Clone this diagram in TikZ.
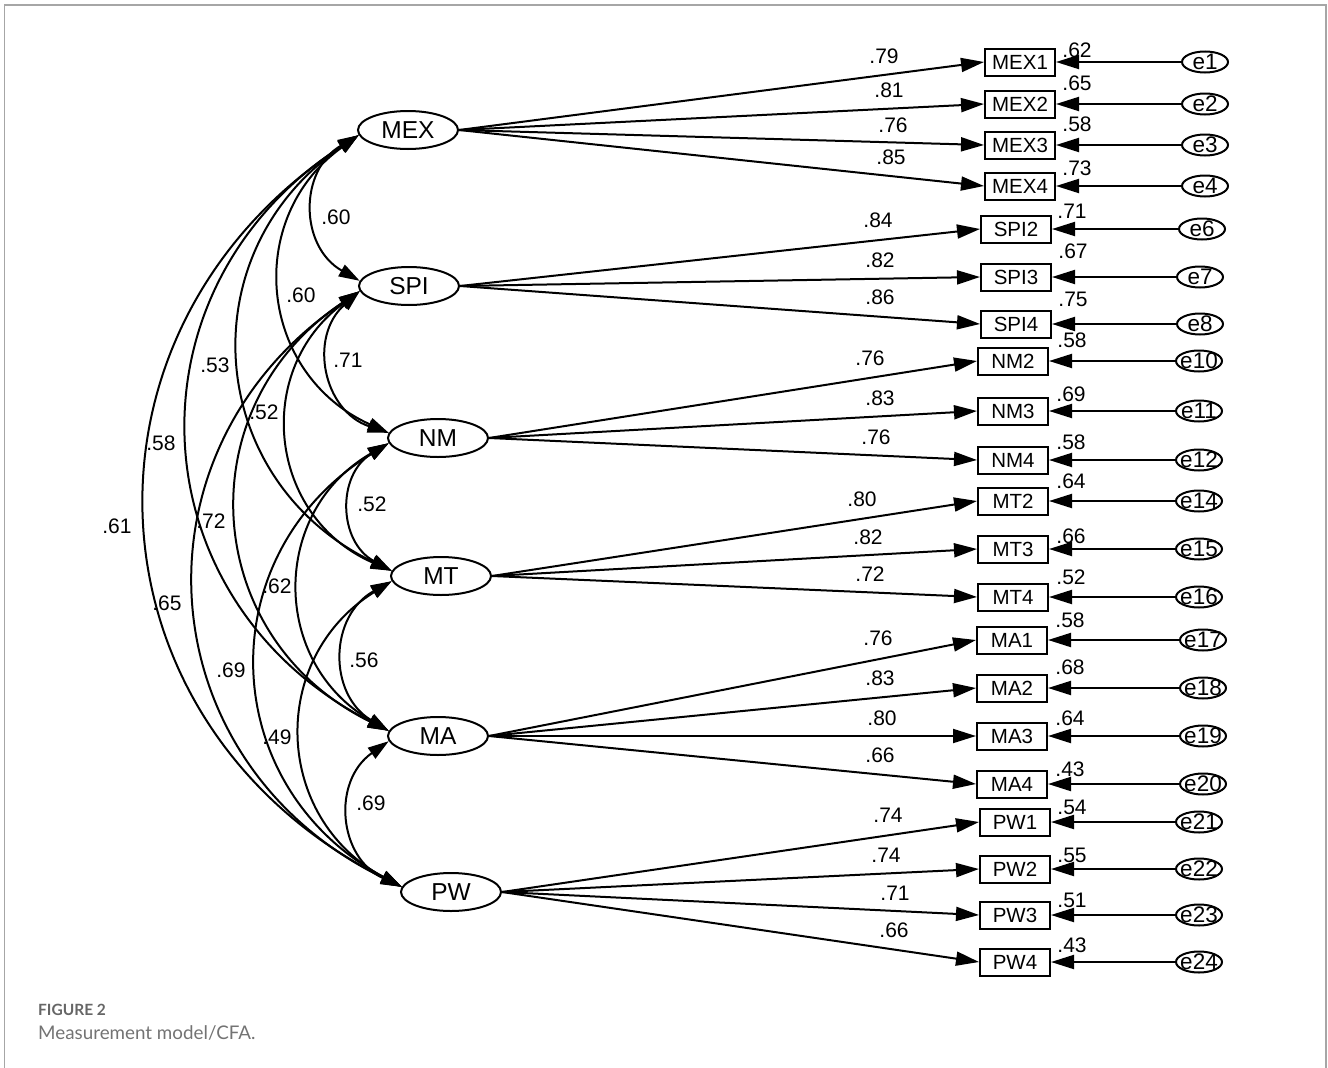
\documentclass[tikz,border=0pt]{standalone}
\usepackage{fontspec}
\setmainfont{Liberation Sans}
\newfontfamily\capfont{Lato}
\usetikzlibrary{arrows.meta,shapes.geometric}
\begin{document}
\begin{tikzpicture}[x=1pt,y=1pt,
  lat/.style={draw, ellipse, line width=2pt, minimum width=100pt, minimum height=38pt, inner sep=0pt, font=\fontsize{24.5}{24.5}\selectfont},
  obs/.style={draw, rectangle, line width=2pt, minimum width=70pt, minimum height=27pt, inner sep=0pt, font=\fontsize{20.5}{20.5}\selectfont},
  err/.style={draw, ellipse, line width=2pt, minimum width=46pt, minimum height=21pt, inner sep=0pt},
  errtxt/.style={font=\fontsize{22.5}{22.5}\selectfont, inner sep=0pt},
  num/.style={font=\fontsize{21}{21}\selectfont, inner sep=0pt},
  load/.style={line width=2pt, -{Triangle[length=23pt,width=14pt]}},
  cov/.style={line width=2pt, {Triangle[length=21pt,width=13pt]}-{Triangle[length=21pt,width=13pt]}, bend right=60, looseness=1.22},
  frame/.style={draw=black!35, line width=1.2pt}
]
\useasboundingbox (0,0) rectangle (1328,-1068);
\draw[frame] (4.5,-1068) -- (4.5,-5) -- (1326,-5) -- (1326,-1068);

% latent variables
\node[lat] (MEX) at (408,-130) {MEX};
\node[lat] (SPI) at (409,-286) {SPI};
\node[lat] (NM)  at (438,-438) {NM};
\node[lat] (MT)  at (441,-576) {MT};
\node[lat] (MA)  at (438,-736) {MA};
\node[lat] (PW)  at (451,-892) {PW};

% observed variables
\node[obs] (MEX1) at (1020,-62) {MEX1};
\node[obs] (MEX2) at (1020,-104) {MEX2};
\node[obs] (MEX3) at (1020,-145) {MEX3};
\node[obs] (MEX4) at (1020,-186) {MEX4};
\node[obs] (SPI2) at (1016,-229) {SPI2};
\node[obs] (SPI3) at (1016,-277) {SPI3};
\node[obs] (SPI4) at (1016,-324) {SPI4};
\node[obs] (NM2) at (1013,-361) {NM2};
\node[obs] (NM3) at (1013,-411) {NM3};
\node[obs] (NM4) at (1013,-460) {NM4};
\node[obs] (MT2) at (1013,-501) {MT2};
\node[obs] (MT3) at (1013,-549) {MT3};
\node[obs] (MT4) at (1013,-597) {MT4};
\node[obs] (MA1) at (1012,-640) {MA1};
\node[obs] (MA2) at (1012,-688) {MA2};
\node[obs] (MA3) at (1012,-736) {MA3};
\node[obs] (MA4) at (1012,-784) {MA4};
\node[obs] (PW1) at (1015,-822) {PW1};
\node[obs] (PW2) at (1015,-869) {PW2};
\node[obs] (PW3) at (1015,-915) {PW3};
\node[obs] (PW4) at (1015,-962) {PW4};

% error terms
\foreach \e/\x/\y in {e1/1205/62, e2/1205/104, e3/1205/145, e4/1205/186,
  e6/1202/229, e7/1200/277, e8/1200/324,
  e10/1199/361, e11/1199/411, e12/1199/460,
  e14/1199/501, e15/1199/549, e16/1199/597,
  e17/1203/640, e18/1203/688, e19/1203/736, e20/1203/784,
  e21/1199/822, e22/1199/869, e23/1199/915, e24/1199/962}
  {\node[err, label={[errtxt]center:\e}] (\e) at (\x,-\y) {};}

% error arrows
\foreach \e/\o in {e1/MEX1, e2/MEX2, e3/MEX3, e4/MEX4, e6/SPI2, e7/SPI3, e8/SPI4,
  e10/NM2, e11/NM3, e12/NM4, e14/MT2, e15/MT3, e16/MT4,
  e17/MA1, e18/MA2, e19/MA3, e20/MA4, e21/PW1, e22/PW2, e23/PW3, e24/PW4}
  {\draw[load] (\e.west) -- (\o.east);}

% loading arrows
\foreach \l/\o in {MEX/MEX1, MEX/MEX2, MEX/MEX3, MEX/MEX4, SPI/SPI2, SPI/SPI3, SPI/SPI4,
  NM/NM2, NM/NM3, NM/NM4, MT/MT2, MT/MT3, MT/MT4,
  MA/MA1, MA/MA2, MA/MA3, MA/MA4, PW/PW1, PW/PW2, PW/PW3, PW/PW4}
  {\draw[load] (\l.east) -- (\o.west);}

% loading labels
\foreach \t/\x/\y [count=\i] in {.79/884/56, .81/889/90, .76/893/125, .85/891/157,
  .84/878/220, .82/880/260, .86/880/297,
  .76/870/358, .83/880/398, .76/876/437,
  .80/862/499, .82/868/537, .72/870/574,
  .76/878/638, .83/880/678, .80/882/718, .66/880/755,
  .74/888/815, .74/886/855, .71/895/893, .66/894/930}
  {\node[num] (ld\i) at (\x,-\y) {\t};}

% squared multiple correlations
\foreach \t/\x/\y [count=\i] in {.62/1077/50, .65/1077/83, .58/1077/124, .73/1077/168,
  .71/1072/211, .67/1073/251, .75/1073/299,
  .58/1072/340, .69/1071/394, .58/1071/442,
  .64/1071/481, .66/1071/536, .52/1071/577,
  .58/1070/620, .68/1070/667, .64/1070/718, .43/1070/769,
  .54/1072/807, .55/1072/855, .51/1072/900, .43/1072/945}
  {\node[num] (r\i) at (\x,-\y) {\t};}

% covariances
\foreach \a/\b/\t/\x/\y [count=\i] in {MEX/SPI/.60/336/217, MEX/NM/.60/301/295, MEX/MT/.53/215/365,
  MEX/MA/.58/161/443, MEX/PW/.61/117/526, SPI/NM/.71/348/360, SPI/MT/.52/264/412,
  SPI/MA/.72/211/521, SPI/PW/.65/167/603, NM/MT/.52/372/504, NM/MA/.62/277/586,
  NM/PW/.69/231/670, MT/MA/.56/364/660, MT/PW/.49/277/737, MA/PW/.69/371/803}
  {\draw[cov] (\a.186) to (\b.174);
   \node[num] (c\i) at (\x,-\y) {\t};}

% caption
\node[anchor=base west, inner sep=0pt, text=black!60, font=\capfont\bfseries\fontsize{15.5}{15.5}\selectfont] (fig) at (38,-1015) {FIGURE 2};
\node[anchor=base west, inner sep=0pt, text=black!55, font=\capfont\fontsize{18.8}{18.8}\selectfont] (cap) at (38,-1039) {Measurement model/CFA.};
\end{tikzpicture}
\end{document}
